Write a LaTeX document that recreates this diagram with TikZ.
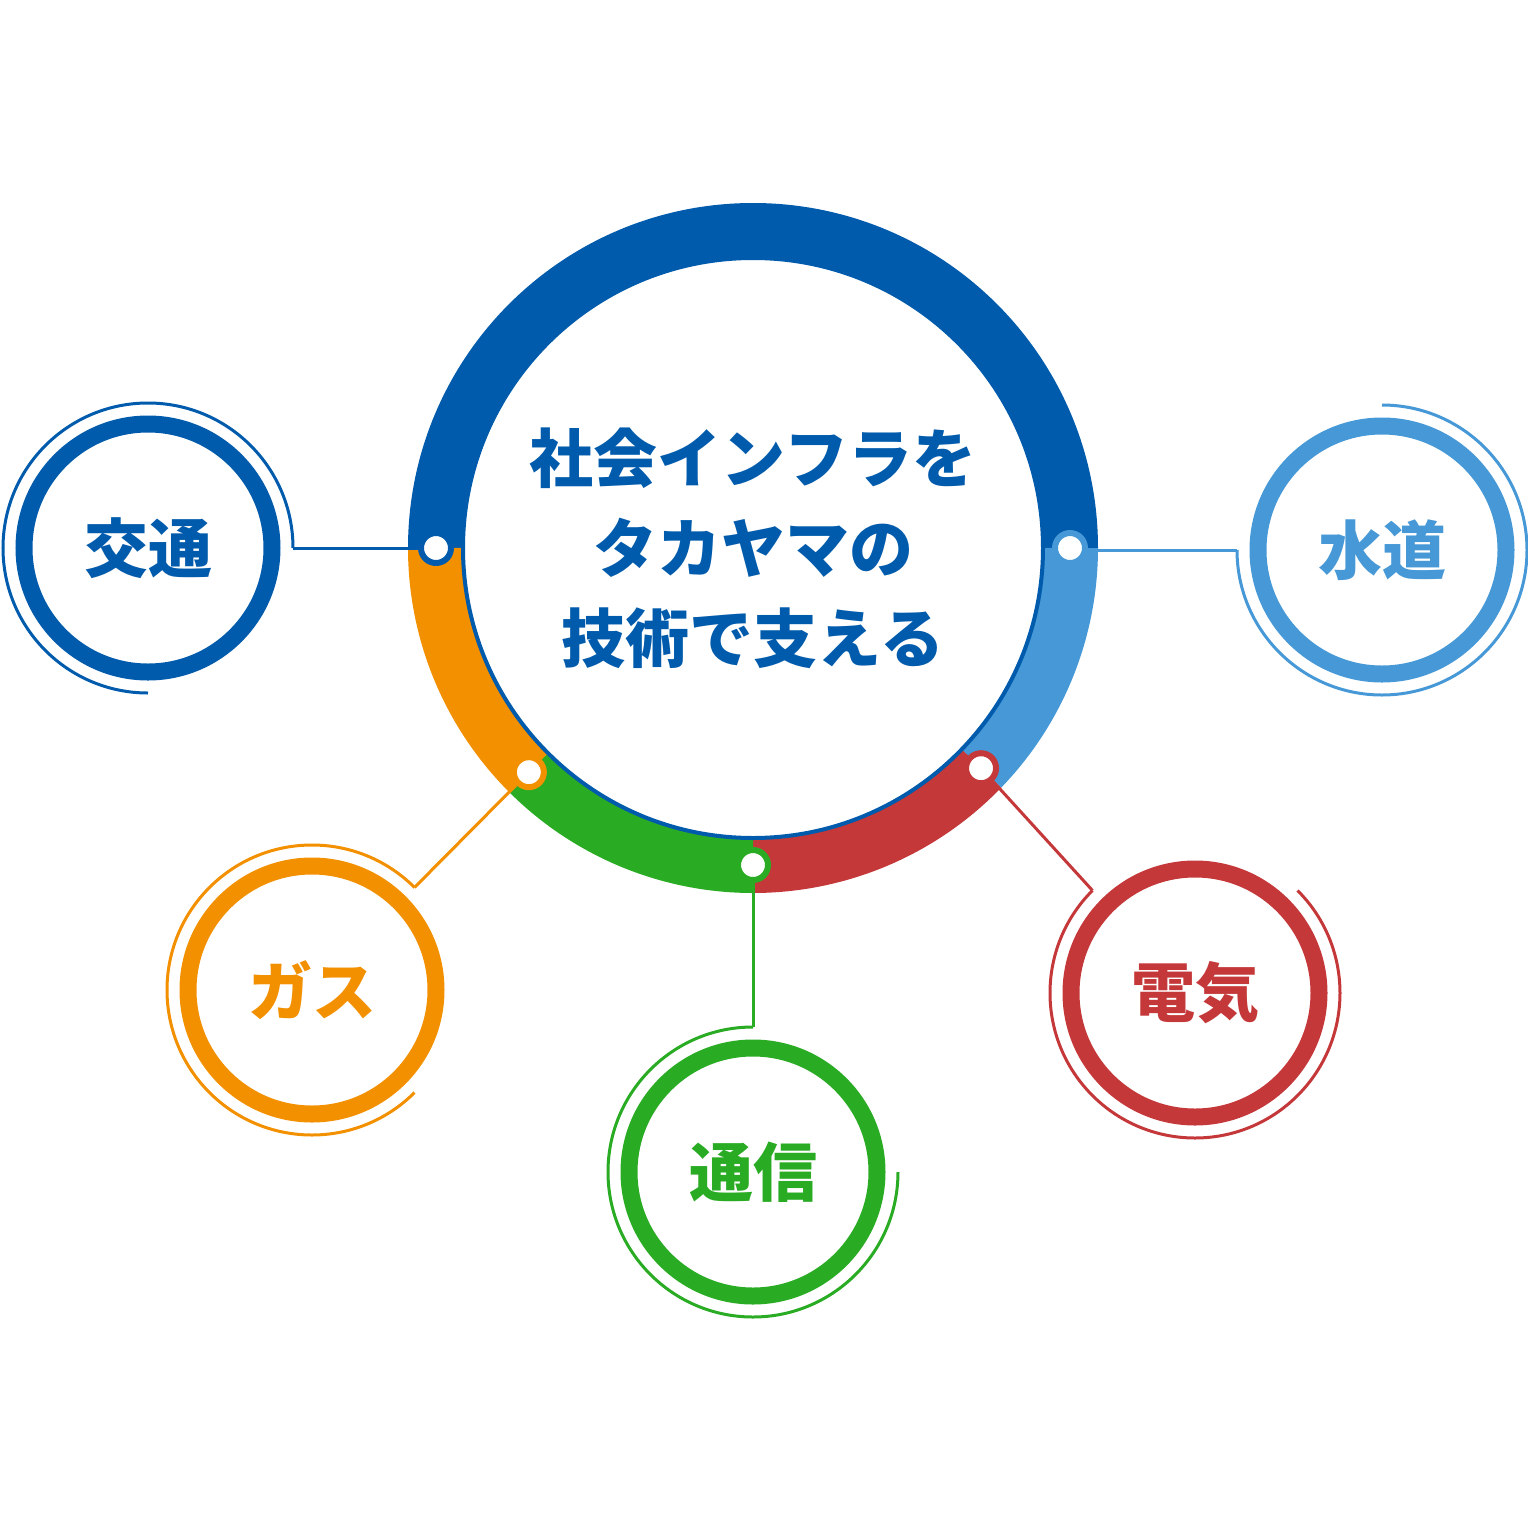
\documentclass[tikz,border=0pt]{standalone}
\usepackage{fontspec}
\usetikzlibrary{calc}
\newfontfamily\cjk{Noto Sans CJK JP}
\definecolor{cblue}{HTML}{005BAC}
\definecolor{clblue}{HTML}{4698D6}
\definecolor{corange}{HTML}{F39000}
\definecolor{cgreen}{HTML}{2AAB24}
\definecolor{cred}{HTML}{C5383A}
\begin{document}
\begin{tikzpicture}[x=0.5pt,y=-0.5pt,
  seg/.style={line width=28pt},
  dot/.style={circle,fill=white,draw=#1,line width=3pt,minimum size=15pt,inner sep=0pt},
  ring/.style={circle,draw=#1,line width=8.5pt,fill=white,minimum size=124pt,inner sep=0pt,font=\cjk\bfseries\fontsize{32}{38}\selectfont,text=#1},
  thin/.style={draw=#1,line width=1.5pt},
  conn/.style={draw=#1,line width=1.5pt}]
\useasboundingbox (0,0) rectangle (1528,1527);
\coordinate (C) at (753,548);
\draw[seg,cblue] (C) ++(180:317) arc[start angle=180,end angle=360,radius=317];
\draw[seg,clblue] (C) ++(0:317) arc[start angle=0,end angle=44,radius=317];
\draw[seg,cred] (C) ++(44:317) arc[start angle=44,end angle=90,radius=317];
\draw[seg,cgreen] (C) ++(90:317) arc[start angle=90,end angle=135,radius=317];
\draw[seg,corange] (C) ++(135:317) arc[start angle=135,end angle=180,radius=317];
\node[circle,fill=white,draw=cblue,line width=2pt,minimum size=290pt,inner sep=0pt,align=center,
  font=\cjk\bfseries\fontsize{32}{45}\selectfont,text=cblue] (main) at (C) {社会インフラを\\タカヤマの\\技術で支える};
\node[dot=cblue] (d1) at ($(C)+(180:317)$) {};
\node[dot=clblue] (d2) at ($(C)+(0:317)$) {};
\node[dot=cred] (d3) at ($(C)+(44:317)$) {};
\node[dot=cgreen] (d4) at ($(C)+(90:317)$) {};
\node[dot=corange] (d5) at ($(C)+(135:317)$) {};
\node[ring=cblue] (s1) at (148,548) {交通};
\draw[thin=cblue] (s1.center) ++(90:145) arc[start angle=90,end angle=360,radius=145] coordinate (e1);
\draw[conn=cblue] (e1) -- (d1);
\node[ring=clblue] (s2) at (1382,550) {水道};
\draw[thin=clblue] (s2.center) ++(270:145) arc[start angle=270,end angle=540,radius=145] coordinate (e2);
\draw[conn=clblue] (e2) -- (d2.east |- e2);
\node[ring=corange] (s3) at (312,990) {ガス};
\draw[thin=corange] (s3.center) ++(45:145) arc[start angle=45,end angle=315,radius=145] coordinate (e3);
\draw[conn=corange] (e3) -- (d5);
\node[ring=cgreen] (s4) at (753,1172) {通信};
\draw[thin=cgreen] (s4.center) ++(0:145) arc[start angle=0,end angle=270,radius=145] coordinate (e4);
\draw[conn=cgreen] (e4) -- (d4);
\node[ring=cred] (s5) at (1195,993) {電気};
\draw[thin=cred] (s5.center) ++(-45:145) arc[start angle=-45,end angle=225,radius=145] coordinate (e5);
\draw[conn=cred] (e5) -- (d3);
\end{tikzpicture}
\end{document}
